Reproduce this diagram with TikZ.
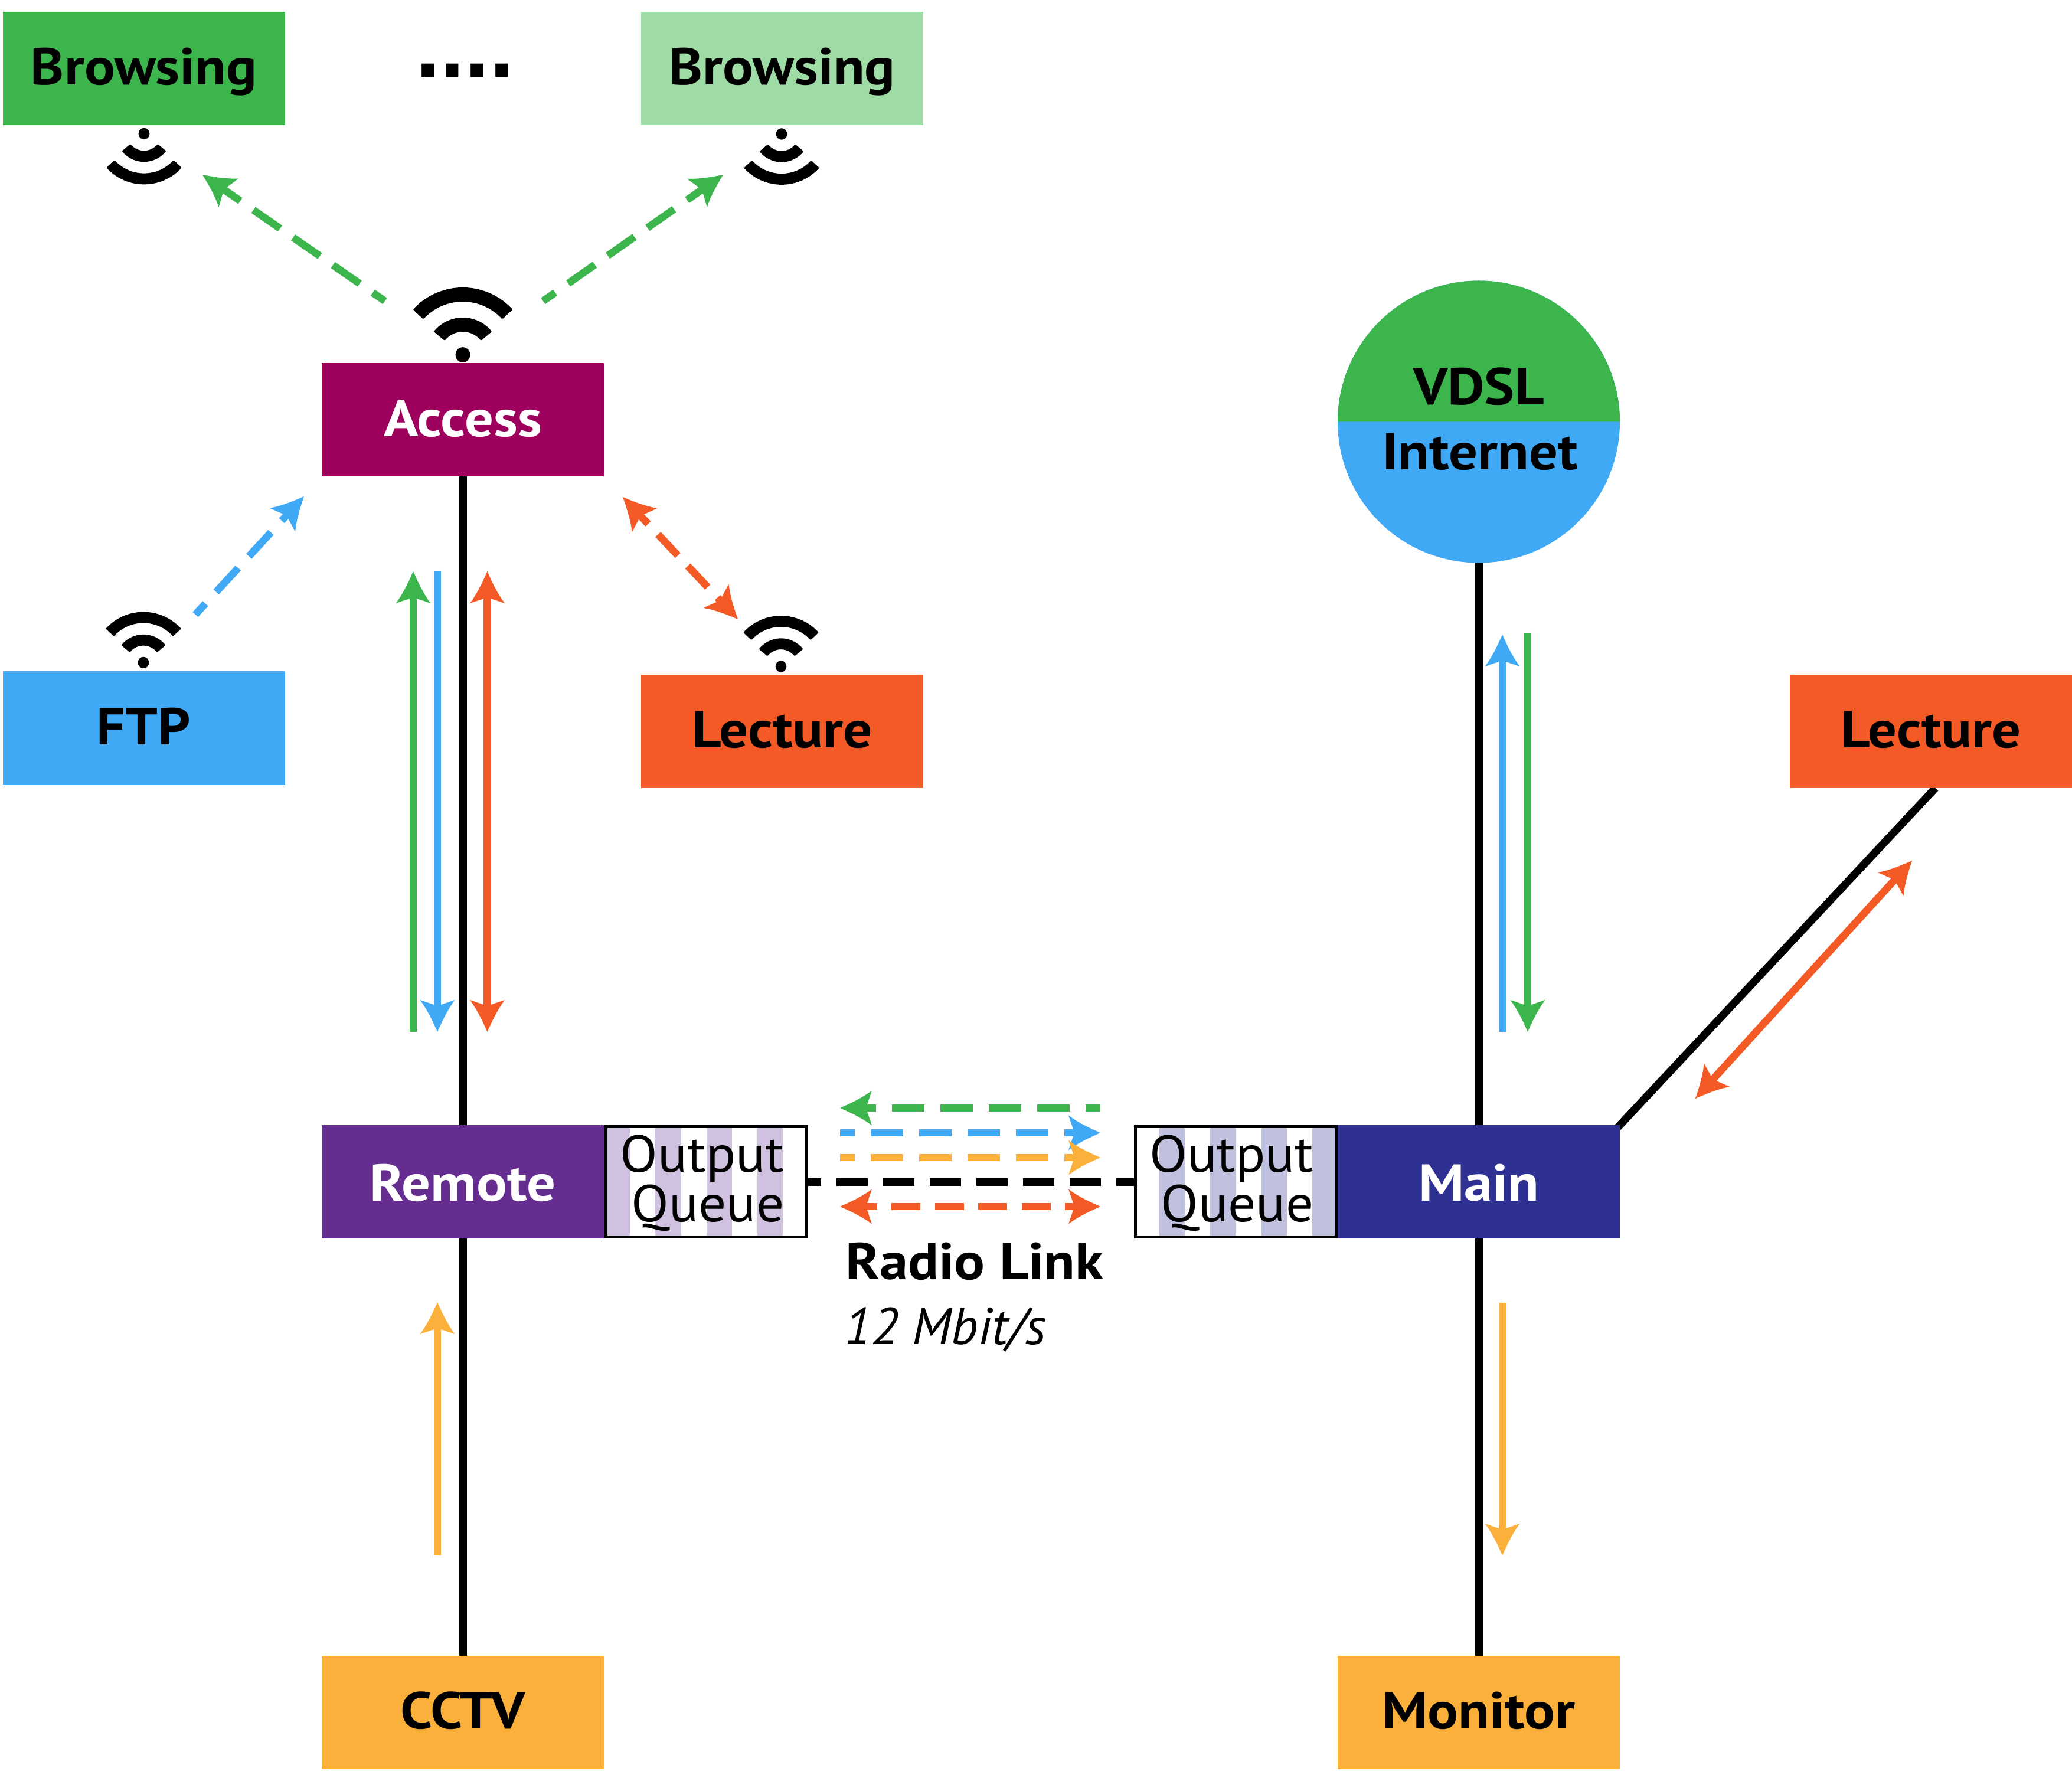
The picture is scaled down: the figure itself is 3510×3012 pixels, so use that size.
\documentclass[tikz,border=0pt]{standalone}
\usepackage{fontspec}
\setmainfont{PT Sans}[UprightFeatures={FakeStretch=1.06},BoldFeatures={FakeStretch=1.1}]
\newfontfamily\dotsfont{Liberation Sans}
\usetikzlibrary{arrows.meta,backgrounds}
\definecolor{cgreen}{HTML}{3BB54C}
\definecolor{clight}{HTML}{9EDBA5}
\definecolor{cblue}{HTML}{40A9F5}
\definecolor{corange}{HTML}{F35A26}
\definecolor{cyellow}{HTML}{FBB03B}
\definecolor{cmag}{HTML}{9E005D}
\definecolor{cpurple}{HTML}{652D90}
\definecolor{cnavy}{HTML}{2E3192}
\definecolor{lavL}{HTML}{D1C1E0}
\definecolor{lavR}{HTML}{C0C1DF}
\pgfdeclarearrow{
  name=Swoop,
  setup code={
    \pgfarrowssettipend{0pt}
    \pgfarrowssetbackend{-15.36pt}
    \pgfarrowssetlineend{-11.4pt}
    \pgfarrowssetvisualbackend{-12.5pt}
    \pgfarrowshullpoint{0pt}{0pt}
    \pgfarrowshullpoint{-15.36pt}{8.4pt}
    \pgfarrowshullpoint{-15.36pt}{-8.4pt}
  },
  drawing code={
    \pgfpathmoveto{\pgfqpoint{0pt}{0pt}}
    \pgfpathcurveto{\pgfqpoint{-6pt}{2.6pt}}{\pgfqpoint{-11.5pt}{5.4pt}}{\pgfqpoint{-15.36pt}{8.4pt}}
    \pgfpathlineto{\pgfqpoint{-12.5pt}{0pt}}
    \pgfpathlineto{\pgfqpoint{-15.36pt}{-8.4pt}}
    \pgfpathcurveto{\pgfqpoint{-11.5pt}{-5.4pt}}{\pgfqpoint{-6pt}{-2.6pt}}{\pgfqpoint{0pt}{0pt}}
    \pgfpathclose
    \pgfusepathqfill
  }
}
\tikzset{
  box/.style={rectangle,inner sep=0pt,outer sep=0pt,minimum width=47.8mm,minimum height=19.2mm,
    text height=5.6mm,text depth=0pt,font=\fontsize{25}{25}\selectfont\bfseries,fill=#1},
  queue/.style={rectangle,draw=black,line width=.5mm,fill=white,minimum width=34mm,minimum height=18.7mm,outer sep=0pt,inner sep=0pt},
  qtext/.style={inner sep=0pt,align=right,anchor=base east,font=\fontsize{25}{22.76}\selectfont},
  wire/.style={black,line width=1.3mm},
  flow/.style={line width=1.25mm,draw=#1,fill=none},
  dashflow/.style={flow=#1,dash pattern=on 5.5mm off 2.7mm,dash phase=3mm},
  dashduo/.style={flow=#1,dash pattern=on 4.9mm off 2.45mm,dash phase=2.65mm},
  wifisym/.pic={
    \fill[black] (0,0) ellipse[x radius=1.25mm,y radius=1.3mm];
    \path[fill=black,draw=black,line width=.3mm,line join=round]
      (40:6.15mm) arc[start angle=40,end angle=140,radius=6.15mm]
      -- (140:4.05mm) arc[start angle=140,end angle=40,radius=4.05mm] -- cycle;
    \path[fill=black,draw=black,line width=.3mm,line join=round]
      (43:11.25mm) arc[start angle=43,end angle=137,radius=11.25mm]
      -- (137:9.15mm) arc[start angle=137,end angle=43,radius=9.15mm] -- cycle;
  }
}
\begin{document}
\begin{tikzpicture}[x=0.1mm,y=-0.1mm]
\useasboundingbox (0,0) rectangle (3510,3012);
% boxes
\node[box=cgreen] (b1) at (243.5,116) {Browsing};
\node[box=clight] (b2) at (1325,116) {Browsing};
\node[inner sep=0pt,anchor=base,font=\fontsize{42.7}{42.7}\selectfont\bfseries\dotsfont] (dots) at (787.5,131) {....};
\node[box=cmag,text=white,text height=5.8mm] (access) at (784,711) {Access};
\node[box=cblue] (ftp) at (243.5,1233.5) {FTP};
\node[box=corange,text height=5.4mm] (lecL) at (1325,1239) {Lecture};
\node[box=corange,text height=5.4mm] (lecR) at (3271,1239) {Lecture};
\node[box=cpurple,text=white,text height=6.4mm] (remote) at (784,2002) {Remote};
\node[box=cnavy,text=white,text height=6.4mm] (main) at (2505,2002) {Main};
\node[box=cyellow] (cctv) at (784,2900.5) {CCTV};
\node[box=cyellow] (monitor) at (2505,2900.5) {Monitor};
% circle
\node[circle,fill=cblue,minimum size=47.8mm,inner sep=0pt,outer sep=0pt] (inet) at (2505,714.5) {};
\fill[cgreen] (inet.west) arc[start angle=180,end angle=0,radius=23.9mm] -- cycle;
\node[inner sep=0pt,anchor=base,font=\fontsize{25}{25}\selectfont\bfseries] (vdsl) at (2505,686) {VDSL};
\node[inner sep=0pt,anchor=base,font=\fontsize{25}{25}\selectfont\bfseries] (internet) at (2507,795.5) {Internet};
% queues
\node[queue,path picture={
  \foreach \i in {0,2,4,6}
    \fill[lavL] ([xshift=\i*4.32mm-.25mm]path picture bounding box.north west) rectangle ([xshift=\i*4.32mm+4.32mm-.25mm]path picture bounding box.south west);
  }] (qL) at (1196.5,2002) {};
\node[queue,path picture={
  \foreach \i in {1,3,5,7}
    \fill[lavR] ([xshift=\i*4.32mm-.25mm]path picture bounding box.north west) rectangle ([xshift=\i*4.32mm+4.32mm-.25mm]path picture bounding box.south west);
  }] (qR) at (2093,2002) {};
\node[qtext] (tL) at (1329,2069) {Output\\Queue};
\node[qtext] (tR) at (2226,2069) {Output\\Queue};
% labels
\node[inner sep=0pt,anchor=base west,font=\fontsize{25}{25}\selectfont\bfseries] (radio) at (1432,2167) {Radio Link};
\node[inner sep=0pt,anchor=base west,font=\fontsize{25}{25}\selectfont\itshape] (rate) at (1430,2277) {12 Mbit/s};
% wires
\begin{scope}[on background layer]
\draw[wire] (access) -- (remote);
\draw[wire] (remote) -- (cctv);
\draw[wire] (inet) -- (main);
\draw[wire] (main) -- (monitor);
\coordinate (lecfoot) at (3278.5,1335);
\draw[wire,shorten <=-1mm] (main.north east) -- (lecfoot);
\draw[wire,dash pattern=on 5.3mm off 2.6mm,dash phase=2.9mm] (qL.east) -- (qR.west);
\end{scope}
% wifi
\path (784,601) pic {wifisym};
\path (244,226.5) pic[scale=.75,rotate=180] {wifisym};
\path (1324,227) pic[scale=.75,rotate=180] {wifisym};
\path (243,1122.5) pic[scale=.75] {wifisym};
\path (1323,1129) pic[scale=.75] {wifisym};
% endpoints
\coordinate (gA) at (652,510); \coordinate (gB) at (343,296);
\coordinate (gC) at (920,510); \coordinate (gD) at (1225,296);
\coordinate (bA) at (331,1041); \coordinate (bB) at (515,841);
\coordinate (oA) at (1055,842); \coordinate (oB) at (1250,1049);
\coordinate (vgA) at (700,1748); \coordinate (vgB) at (700,968);
\coordinate (vbA) at (741,968); \coordinate (vbB) at (741,1748);
\coordinate (voA) at (825.5,968); \coordinate (voB) at (825.5,1748);
\coordinate (ryA) at (741,2635); \coordinate (ryB) at (741,2206);
\coordinate (rbA) at (2545,1748); \coordinate (rbB) at (2545,1075);
\coordinate (rgA) at (2588,1072); \coordinate (rgB) at (2588,1748);
\coordinate (myA) at (2545,2207); \coordinate (myB) at (2545,2635);
\coordinate (doA) at (3239,1458); \coordinate (doB) at (2872,1861);
\coordinate (lgA) at (1864,1877); \coordinate (lgB) at (1423,1877);
\coordinate (lbA) at (1423,1919); \coordinate (lbB) at (1864,1919);
\coordinate (lyA) at (1423,1961); \coordinate (lyB) at (1864,1961);
\coordinate (loA) at (1423,2044); \coordinate (loB) at (1864,2044);
% dashed wireless flows
\draw[dashflow=cgreen,-{Swoop[fill=cgreen]}] (gA) -- (gB);
\draw[dashflow=cgreen,-{Swoop[fill=cgreen]}] (gC) -- (gD);
\draw[dashflow=cblue,-{Swoop[fill=cblue]}] (bA) -- (bB);
\draw[dashduo=corange,{Swoop[fill=corange]}-{Swoop[fill=corange]}] (oA) -- (oB);
% solid flows
\draw[flow=cgreen,-{Swoop[fill=cgreen]}] (vgA) -- (vgB);
\draw[flow=cblue,-{Swoop[fill=cblue]}] (vbA) -- (vbB);
\draw[flow=corange,{Swoop[fill=corange]}-{Swoop[fill=corange]}] (voA) -- (voB);
\draw[flow=cyellow,-{Swoop[fill=cyellow]}] (ryA) -- (ryB);
\draw[flow=cblue,-{Swoop[fill=cblue]}] (rbA) -- (rbB);
\draw[flow=cgreen,-{Swoop[fill=cgreen]}] (rgA) -- (rgB);
\draw[flow=cyellow,-{Swoop[fill=cyellow]}] (myA) -- (myB);
\draw[flow=corange,{Swoop[fill=corange]}-{Swoop[fill=corange]}] (doA) -- (doB);
% radio flows
\draw[dashflow=cgreen,-{Swoop[fill=cgreen]}] (lgA) -- (lgB);
\draw[dashflow=cblue,-{Swoop[fill=cblue]}] (lbA) -- (lbB);
\draw[dashflow=cyellow,-{Swoop[fill=cyellow]}] (lyA) -- (lyB);
\draw[dashduo=corange,{Swoop[fill=corange]}-{Swoop[fill=corange]}] (loA) -- (loB);
\end{tikzpicture}
\end{document}
